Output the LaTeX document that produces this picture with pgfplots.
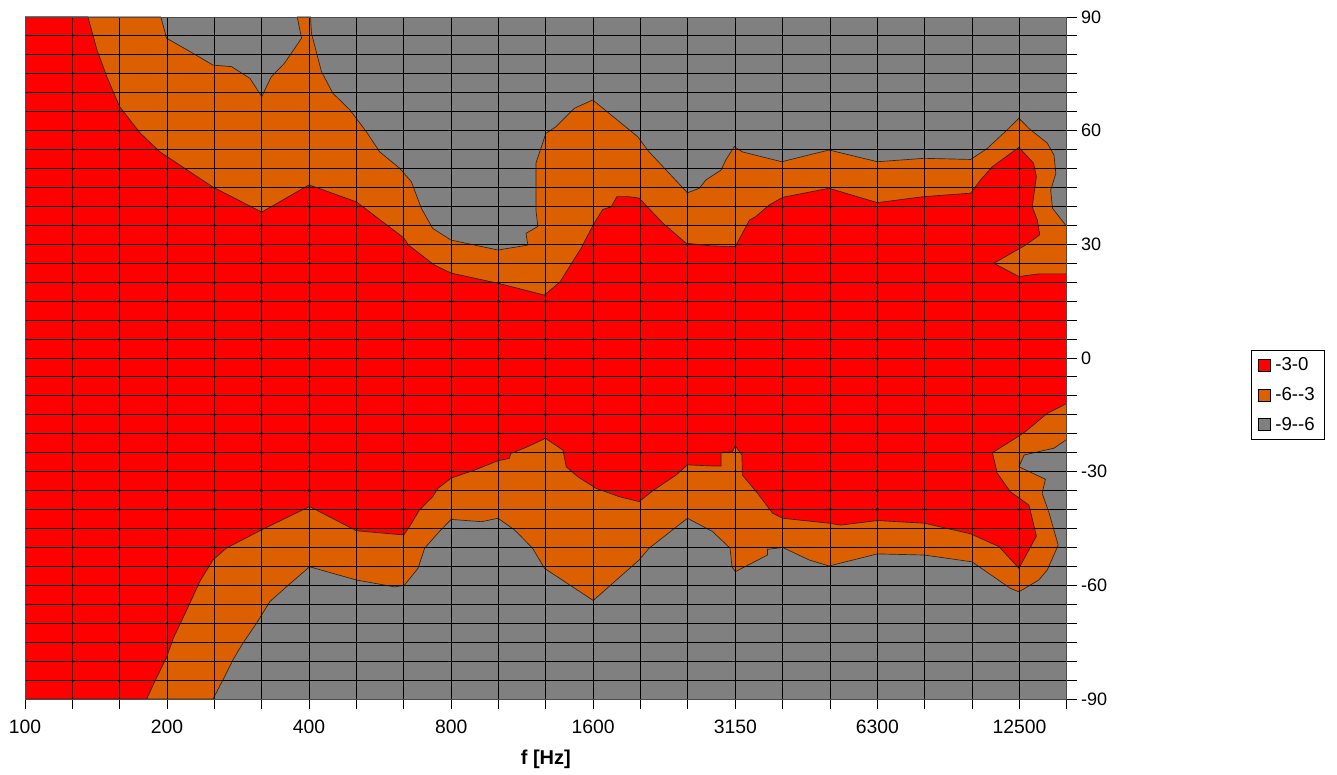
\documentclass[border=0pt]{standalone}
\usepackage{fontspec}
\setmainfont{Liberation Sans}
\usepackage{pgfplots}
\pgfplotsset{compat=1.18}
\definecolor{cred}{RGB}{255,0,0}
\definecolor{corange}{RGB}{221,96,0}
\definecolor{cgray}{RGB}{128,128,128}
\begin{document}
\begin{tikzpicture}
\useasboundingbox (-18.75pt,-56.25pt) rectangle (984pt,524.25pt);
\begin{axis}[
  at={(0,0)}, anchor=south west,
  scale only axis, width=781.3pt, height=511.5pt,
  xmin=0, xmax=22, ymin=-90, ymax=90,
  xtick={0,...,22},
  xticklabels={100,,,200,,,400,,,800,,,1600,,,3150,,,6300,,,12500,,},
  ytick={-90,-60,-30,0,30,60,90},
  yticklabels={-90,-60,-30,0,30,60,90},
  minor ytick={-85,-80,...,85},
  grid=both,
  major grid style={black, line width=0.7pt},
  minor grid style={black, line width=0.7pt},
  axis on top,
  tick align=outside,
  xtick pos=left, ytick pos=right,
  yticklabel pos=right,
  major tick length=7.5pt, minor tick length=7.5pt,
  tick style={black, line width=0.7pt},
  axis line style={black!70, line width=0.7pt},
  xticklabel style={font=\fontsize{14.5}{17}\selectfont, text=black, yshift=-5pt},
  yticklabel style={font=\fontsize{13.5}{16}\selectfont, text=black, inner xsep=3pt},
  xlabel={\textbf{f [Hz]}},
  xlabel style={font=\fontsize{15}{17}\selectfont, at={(axis description cs:0.5,0)}, anchor=center, yshift=-45.5pt},
  legend style={at={(axis description cs:1.1767,0.5117)}, anchor=north west, draw=black, fill=white,
    font=\fontsize{14}{16}\selectfont, row sep=7pt, inner xsep=5pt, inner ysep=3.5pt, cells={anchor=west}},
  legend image code/.code={\draw[#1, draw=black, line width=0.5pt] (0pt,-4.5pt) rectangle (9.2pt,4.5pt);},
]
\addlegendimage{fill=cred}
\addlegendentry{\hspace{1.5pt}-3-0}
\addlegendimage{fill=corange}
\addlegendentry{\hspace{1.5pt}-6-{}-3}
\addlegendimage{fill=cgray}
\addlegendentry{\hspace{1.5pt}-9-{}-6}

% -9--6 : background region
\addplot[fill=cgray, draw=none, forget plot] coordinates {(0,-90)(22,-90)(22,90)(0,90)} -- cycle;

% -6--3 region
\addplot[fill=corange, draw=black!85, line width=0.5pt, forget plot] coordinates {
(0,90)(2.87,90)(2.99,84.4)(3.55,80.4)(3.97,77.3)(4.36,76.9)(4.75,73.8)(5.0,69.0)
(5.2,74.2)(5.48,77.8)(5.84,84.4)(5.75,90)(6.03,90)(6.05,85.7)(6.26,75.6)(6.5,69.9)
(6.86,65.5)(7.21,59.7)(7.49,54.4)(7.91,50.1)(8.16,46.5)(8.37,39.5)(8.61,34.2)(9.0,31.1)
(9.99,28.5)(10.62,29.8)(10.58,32.9)(10.83,34.7)(10.79,39.1)(10.79,51.4)(11.0,59.3)
(11.21,61.0)(11.6,65.9)(11.99,68.1)(12.94,58.4)(13.18,54.4)(13.99,43.6)(14.24,44.8)
(14.38,47.0)(14.7,49.6)(14.8,52.3)(14.98,55.8)(15.15,54.4)(15.98,51.8)(16.98,54.9)
(18.0,51.8)(18.99,52.7)(19.97,52.4)(20.32,55.3)(20.74,60.2)(20.99,63.3)(21.2,60.6)
(21.59,56.7)(21.73,53.6)(21.77,48.7)(21.66,44.3)(21.7,39.5)(22,34.7)
(22,-21.5)(21.73,-23.8)(21.1,-25.6)(20.99,-28.7)(21.55,-32.0)(21.48,-35.7)(21.62,-40.6)
(21.82,-49.4)(21.59,-55.9)(21.41,-58.6)(20.99,-61.7)(20.81,-60.8)(20.0,-53.8)
(18.99,-52.0)(18.0,-51.7)(16.98,-54.9)(16.56,-53.3)(16.0,-50.0)(15.68,-50.5)(15.68,-52.0)
(15.0,-56.4)(14.93,-55.1)(14.89,-50.2)(14.52,-45.8)(13.99,-42.3)(13.18,-50.2)(12.97,-53.3)
(12.0,-64.0)(10.97,-55.5)(10.72,-50.2)(10.34,-45.4)(9.99,-42.3)(9.64,-43.2)(9.0,-42.6)
(8.75,-45.8)(8.44,-50.2)(8.3,-55.5)(8.01,-60.0)(7.8,-60.4)(7.0,-58.6)(6.01,-55.1)
(5.52,-60.4)(5.17,-64.3)(4.89,-70.0)(4.6,-75.3)(4.39,-79.7)(4.18,-85.0)(3.97,-90)(0,-90)
} -- cycle;

% -3-0 region
\addplot[fill=cred, draw=black!85, line width=0.5pt, forget plot] coordinates {
(0,90)(1.33,90)(1.52,81.3)(1.73,74.2)(2.0,66.3)(2.43,59.4)(2.85,54.4)(3.97,45.1)
(5.0,38.5)(6.0,45.7)(7.0,41.2)(8.0,31.7)(8.1,29.8)(8.65,24.5)(9.0,22.4)(10.0,19.7)
(10.97,16.6)(11.3,20.1)(11.74,28.9)(12.0,35.1)(12.2,39.2)(12.38,39.9)(12.5,42.6)
(12.73,42.6)(12.97,42.2)(13.47,35.6)(13.96,30.3)(14.49,29.6)(15.0,29.4)(15.3,36.4)
(15.43,37.3)(15.72,40.4)(16.0,42.4)(16.98,44.8)(18.0,41.0)(18.99,42.6)(19.97,43.5)
(20.18,47.0)(20.43,50.5)(20.99,55.6)(21.3,51.4)(21.36,47.9)(21.27,39.9)(21.38,36.4)
(21.43,32.5)(21.13,29.8)(20.46,25.0)(20.99,21.5)(21.41,22.2)(22,22.2)
(22,-12.0)(21.59,-14.6)(21.13,-19.4)(20.99,-20.6)(20.43,-25.0)(20.5,-28.7)(20.53,-30.4)
(20.81,-35.3)(21.2,-38.8)(21.36,-47.0)(20.99,-55.5)(20.57,-49.8)(19.97,-46.4)
(18.99,-43.6)(18.0,-42.9)(17.23,-44.1)(16.98,-43.6)(16.0,-42.3)(15.79,-41.0)
(15.47,-35.7)(15.15,-30.9)(15.14,-25.6)(15.0,-23.2)(14.94,-24.7)(14.7,-25.0)
(14.7,-28.5)(14.52,-28.5)(13.99,-28.2)(13.75,-30.9)(13.26,-35.0)(12.97,-37.9)
(12.55,-36.6)(12.06,-34.4)(11.67,-31.3)(11.43,-28.7)(11.36,-24.3)(10.99,-21.2)
(10.58,-23.6)(10.26,-25.2)(10.23,-26.5)(9.99,-27.1)(9.49,-29.6)(9.0,-31.7)(8.72,-34.4)
(8.61,-36.6)(8.33,-40.1)(8.12,-44.5)(8.0,-46.7)(7.0,-45.6)(6.01,-39.2)(4.99,-45.4)
(4.25,-50.2)(3.97,-53.3)(3.69,-59.0)(3.45,-65.6)(3.13,-74.0)(2.99,-79.0)(2.74,-85.4)
(2.57,-90)(0,-90)
} -- cycle;
\end{axis}
\end{tikzpicture}
\end{document}
